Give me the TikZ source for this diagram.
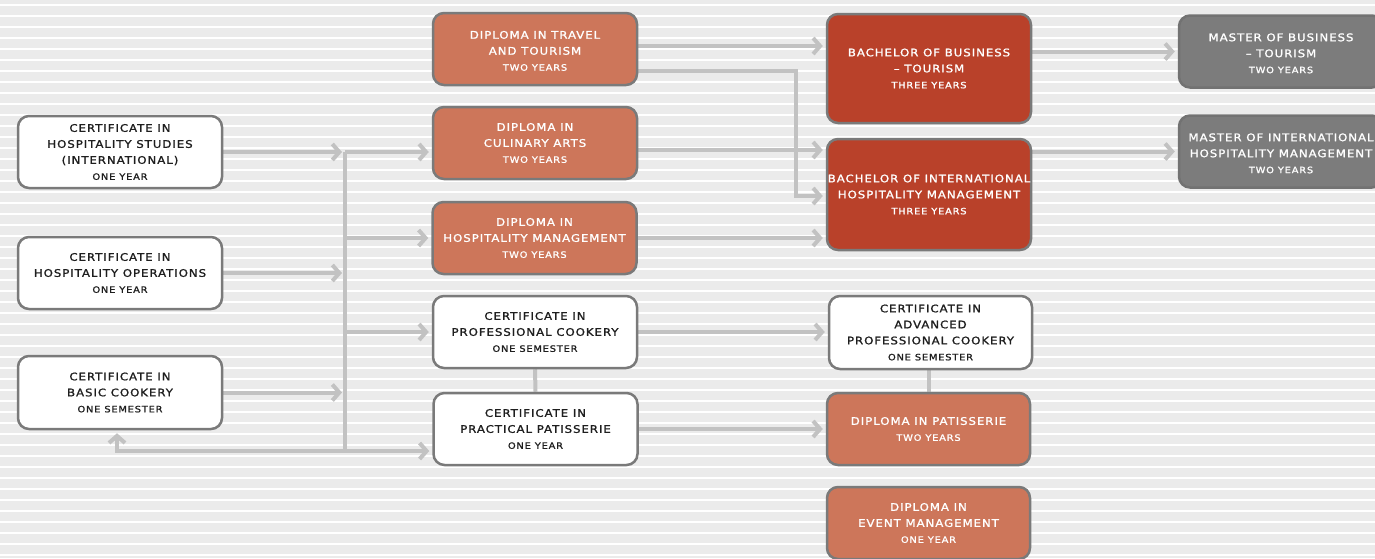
\documentclass[tikz,border=0pt]{standalone}
\usepackage{fontspec}
\setmainfont{DejaVu Sans}[FakeStretch=1.12, FakeBold=1.2, LetterSpace=9]
\usetikzlibrary{arrows.meta}
\definecolor{bggray}{HTML}{EBEBEB}
\definecolor{arrowgray}{HTML}{C2C2C2}
\definecolor{bordergray}{HTML}{7A7A7A}
\definecolor{orangec}{HTML}{CD765A}
\definecolor{redc}{HTML}{B9412A}
\definecolor{mastergray}{HTML}{7C7C7C}
\definecolor{textdark}{HTML}{1E1E1E}
\newcommand\smalltxt[1]{{\fontsize{8.8}{16}\selectfont #1}}
\pgfdeclarelayer{bglayer}
\pgfsetlayers{bglayer,main}
\begin{document}
\begin{tikzpicture}[x=1pt,y=-1pt,
  box/.style={draw=bordergray, line width=2.5pt, rounded corners=11pt,
    minimum width=204pt, minimum height=72pt, inner sep=0pt, align=center,
    font=\fontsize{10.5}{16}\selectfont},
  wbox/.style={box, fill=white, text=textdark},
  obox/.style={box, fill=orangec, text=white},
  rbox/.style={box, fill=redc, text=white},
  mbox/.style={box, fill=mastergray, draw=mastergray!92!black, text=white},
  lower/.style={text height=43.5pt},
  arr/.style={draw=arrowgray, line width=4pt, -{Straight Barb[length=7pt,width=16pt]}, shorten >=3pt},
  link/.style={draw=arrowgray, line width=4pt},
]
\useasboundingbox (0,0) rectangle (1375,558);
\clip (0,0) rectangle (1375,558);

% nodes
\node[wbox] (C1) at (120,152) {CERTIFICATE IN\\HOSPITALITY STUDIES\\(INTERNATIONAL)\\\smalltxt{ONE YEAR}};
\node[wbox] (C2) at (120,273) {CERTIFICATE IN\\HOSPITALITY OPERATIONS\\\smalltxt{ONE YEAR}};
\node[wbox, minimum height=73pt] (C3) at (120,392.5) {CERTIFICATE IN\\BASIC COOKERY\\\smalltxt{ONE SEMESTER}};

\node[obox, lower] (D1) at (535,49) {DIPLOMA IN TRAVEL\\AND TOURISM\\\smalltxt{TWO YEARS}};
\node[obox] (D2) at (535,143) {DIPLOMA IN\\CULINARY ARTS\\\smalltxt{TWO YEARS}};
\node[obox] (D3) at (534.5,238) {DIPLOMA IN\\HOSPITALITY MANAGEMENT\\\smalltxt{TWO YEARS}};
\node[wbox] (W1) at (535,332) {CERTIFICATE IN\\PROFESSIONAL COOKERY\\\smalltxt{ONE SEMESTER}};
\node[wbox] (W2) at (535.5,429) {CERTIFICATE IN\\PRACTICAL PATISSERIE\\\smalltxt{ONE YEAR}};

\node[rbox, minimum height=109pt] (B1) at (929,68.5) {BACHELOR OF BUSINESS\\– TOURISM\\\smalltxt{THREE YEARS}};
\node[rbox, minimum height=111pt] (B2) at (929,194.5) {BACHELOR OF INTERNATIONAL\\HOSPITALITY MANAGEMENT\\\smalltxt{THREE YEARS}};
\node[wbox, minimum width=203pt, minimum height=73pt] (A1) at (930.5,332.5) {CERTIFICATE IN\\ADVANCED\\PROFESSIONAL COOKERY\\\smalltxt{ONE SEMESTER}};
\node[obox, minimum width=203pt] (P1) at (928.5,429) {DIPLOMA IN PATISSERIE\\\smalltxt{TWO YEARS}};
\node[obox, minimum width=203pt] (E1) at (928.5,523) {DIPLOMA IN\\EVENT MANAGEMENT\\\smalltxt{ONE YEAR}};

\node[mbox, lower] (M1) at (1281,51.5) {MASTER OF BUSINESS\\– TOURISM\\\smalltxt{TWO YEARS}};
\node[mbox, lower] (M2) at (1281,151.5) {MASTER OF INTERNATIONAL\\HOSPITALITY MANAGEMENT\\\smalltxt{TWO YEARS}};

% helper coordinates
\coordinate (t1) at (345,152);
\coordinate (tb) at (345,451);
\coordinate (bl) at (117,451);
\coordinate (r1) at (700,46);
\coordinate (e1) at (796,71);
\coordinate (e2) at (796,196);
\coordinate (r2) at (700,150);

\begin{pgfonlayer}{bglayer}
\fill[bggray] (0,0) rectangle (1375,558);
\foreach \y in {4,15,...,558} \fill[white] (0,\y) rectangle (1375,\y+2);

\draw[link] (t1) -- (tb);
\draw[arr] (C1.east) -- (t1);
\draw[arr] (t1) -- (t1 -| D2.west);
\draw[arr] (t1 |- D3.west) -- (D3.west);
\draw[arr] (C2.east) -- (C2.east -| t1);
\draw[arr] (t1 |- W1.west) -- (W1.west);
\draw[arr] (C3.east) -- (C3.east -| t1);
\draw[arr] (tb) -- (tb -| W2.west);
\draw[arr] (tb) -- (bl) -- (bl |- C3.south);

\draw[arr] (D1.east |- r1) -- (B1.west |- r1);
\draw[arr] (D1.east |- e1) -- (e1) -- (e2) -- (B2.west |- e2);
\draw[arr] (D2.east |- r2) -- (B2.west |- r2);
\draw[arr] (D3.east) -- (B2.west |- D3.east);
\draw[arr] (W1.east) -- (A1.west |- W1.east);
\draw[arr] (W2.east) -- (P1.west |- W2.east);
\draw[arr] (B1.east |- M1.west) -- (M1.west);
\draw[arr] (B2.east |- M2.west) -- (M2.west);

\draw[link] (W1.south) -- (W2.north);
\draw[link] (P1.north |- A1.south) -- (P1.north);
\end{pgfonlayer}
\end{tikzpicture}
\end{document}
